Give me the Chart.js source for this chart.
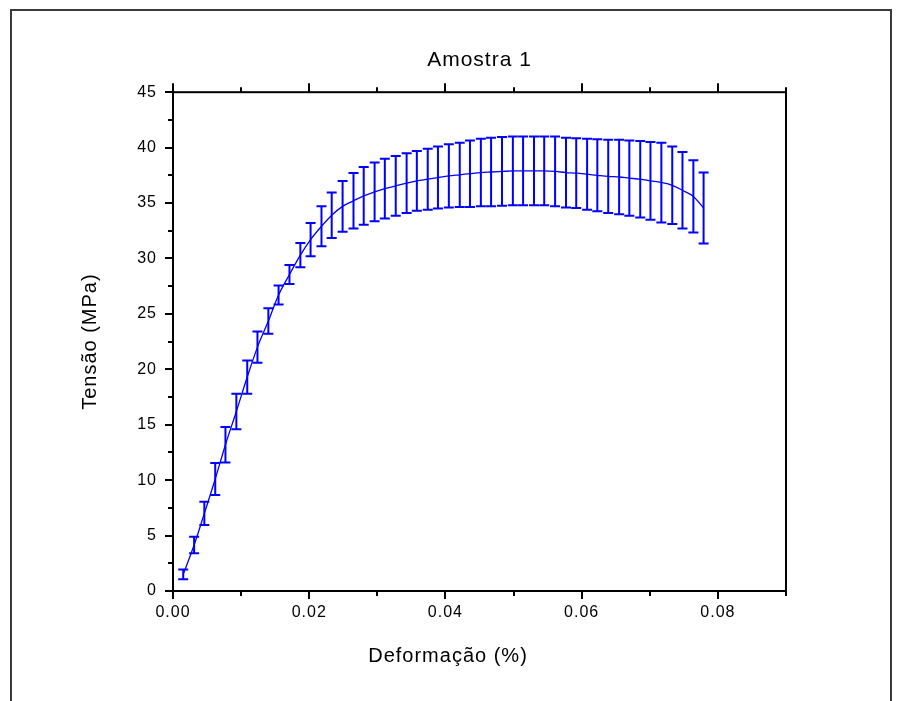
<!DOCTYPE html>
<html>
<head>
<meta charset="utf-8">
<title>Amostra 1</title>
<script src="https://cdn.jsdelivr.net/npm/chart.js@4.4.1/dist/chart.umd.min.js"></script>
<style>
  html, body { margin: 0; padding: 0; background: #fff; }
  #grafico { display: block; }
</style>
</head>
<body>
<canvas id="grafico" width="901" height="701"></canvas>
<script>
// deformação (eixo x) de cada ponto medido
var deformacao = [0.0015, 0.0031, 0.0046, 0.0062, 0.0077, 0.0093, 0.0109, 0.0124, 0.0140, 0.0155,
                  0.0171, 0.0187, 0.0202, 0.0218, 0.0233, 0.0249, 0.0265, 0.0280, 0.0296, 0.0311,
                  0.0327, 0.0343, 0.0358, 0.0374, 0.0389, 0.0405, 0.0421, 0.0436, 0.0452, 0.0467,
                  0.0483, 0.0499, 0.0514, 0.0530, 0.0545, 0.0561, 0.0577, 0.0592, 0.0608, 0.0623,
                  0.0639, 0.0655, 0.0670, 0.0686, 0.0701, 0.0717, 0.0733, 0.0748, 0.0764, 0.0779];

// tensão média (MPa)
var tensao = [1.5, 4.15, 7.0, 10.1, 13.2, 16.2, 19.3, 22.0, 24.35, 26.7,
              28.55, 30.3, 31.7, 32.9, 33.9, 34.7, 35.2, 35.65, 36.0, 36.3,
              36.55, 36.8, 37.0, 37.15, 37.3, 37.45, 37.55, 37.65, 37.75, 37.8,
              37.85, 37.9, 37.9, 37.9, 37.9, 37.85, 37.75, 37.7, 37.6, 37.5,
              37.4, 37.35, 37.25, 37.15, 37.0, 36.85, 36.6, 36.15, 35.6, 34.55];

// desvio padrão (MPa) usado nas barras de erro
var desvio = [0.45, 0.75, 1.05, 1.45, 1.6, 1.6, 1.5, 1.4, 1.15, 0.85,
              0.85, 1.1, 1.5, 1.8, 2.05, 2.3, 2.5, 2.6, 2.65, 2.7,
              2.7, 2.7, 2.7, 2.75, 2.8, 2.85, 2.9, 3.0, 3.05, 3.1,
              3.1, 3.1, 3.1, 3.1, 3.1, 3.15, 3.15, 3.15, 3.2, 3.25,
              3.3, 3.35, 3.4, 3.45, 3.5, 3.6, 3.5, 3.45, 3.25, 3.2];

var rotulosX = ["0.00", "0.02", "0.04", "0.06", "0.08"];
var rotulosY = ["0", "5", "10", "15", "20", "25", "30", "35", "40", "45"];

var titulo = "Amostra 1";
var tituloX = "Deformação (%)";
var tituloY = "Tensão (MPa)";

var azul = "#0000ff";
var fonte = '"Liberation Sans", Arial, sans-serif';

var pontos = deformacao.map(function (d, i) {
    return { x: d, y: tensao[i] };
});

// fundo branco, moldura externa e espaçamento das letras
var moldura = {
    id: "moldura",
    beforeLayout: function (chart) {
        chart.ctx.letterSpacing = "1px";
    },
    beforeDraw: function (chart) {
        var ctx = chart.ctx;
        ctx.letterSpacing = "1px";
        ctx.save();
        ctx.fillStyle = "#fff";
        ctx.fillRect(0, 0, chart.width, chart.height);
        ctx.strokeStyle = "#3a3a3a";
        ctx.lineWidth = 2;
        ctx.strokeRect(11, 10, 880, 720);
        ctx.restore();
    },
    afterDraw: function (chart) {
        var ctx = chart.ctx, a = chart.chartArea;
        var sx = chart.scales.x, sy = chart.scales.y;
        ctx.save();
        ctx.strokeStyle = "#000";
        ctx.lineWidth = 2;
        ctx.strokeRect(a.left, a.top, a.right - a.left, a.bottom - a.top);

        // marcas: grandes onde há rótulo, pequenas no meio
        ctx.beginPath();
        sx.ticks.forEach(function (t) {
            var px = Math.round(sx.getPixelForValue(t.value));
            var grande = t.label !== "";
            ctx.moveTo(px, a.bottom);
            ctx.lineTo(px, a.bottom + (grande ? 8 : 5));
            ctx.moveTo(px, a.top);
            ctx.lineTo(px, a.top - (grande ? 9 : 5));
        });
        sy.ticks.forEach(function (t) {
            var py = Math.round(sy.getPixelForValue(t.value));
            var grande = t.label !== "";
            ctx.moveTo(a.left, py);
            ctx.lineTo(a.left - (grande ? 8 : 5), py);
        });
        ctx.stroke();

        ctx.fillStyle = "#000";
        ctx.font = "20px " + fonte;
        ctx.textAlign = "center";
        ctx.textBaseline = "middle";
        ctx.fillText(tituloX, a.left + 275, a.bottom + 65);
        ctx.restore();
    }
};

// barras de erro verticais com tampas
var barrasErro = {
    id: "barrasErro",
    afterDatasetsDraw: function (chart) {
        var ctx = chart.ctx, sx = chart.scales.x, sy = chart.scales.y;
        ctx.save();
        ctx.strokeStyle = azul;
        ctx.lineWidth = 2;
        ctx.beginPath();
        for (var i = 0; i < deformacao.length; i++) {
            var px = sx.getPixelForValue(deformacao[i]);
            var topo = sy.getPixelForValue(tensao[i] + desvio[i]);
            var base = sy.getPixelForValue(tensao[i] - desvio[i]);
            ctx.moveTo(px, topo);
            ctx.lineTo(px, base);
            ctx.moveTo(px - 5, topo);
            ctx.lineTo(px + 5, topo);
            ctx.moveTo(px - 5, base);
            ctx.lineTo(px + 5, base);
        }
        ctx.stroke();
        ctx.restore();
    }
};

var grafico = new Chart(document.getElementById("grafico"), {
    type: "scatter",
    data: {
        datasets: [{
            data: pontos,
            showLine: true,
            borderColor: azul,
            backgroundColor: azul,
            borderWidth: 1.3,
            pointRadius: 0,
            cubicInterpolationMode: "monotone",
            fill: false
        }]
    },
    options: {
        responsive: false,
        animation: false,
        devicePixelRatio: 1,
        layout: { padding: { left: 0, right: 115, top: 0, bottom: 0 } },
        plugins: {
            legend: { display: false },
            tooltip: { enabled: false },
            title: {
                display: true,
                text: titulo,
                fullSize: false,
                color: "#000",
                font: { family: fonte, size: 21, weight: "normal" },
                padding: { top: 48, bottom: 19 }
            }
        },
        scales: {
            x: {
                type: "linear",
                min: 0,
                max: 0.09,
                afterFit: function (s) { s.height = 110; },
                grid: { display: false, drawTicks: false },
                border: { display: false },
                ticks: {
                    stepSize: 0.01,
                    autoSkip: false,
                    maxRotation: 0,
                    padding: 12,
                    color: "#000",
                    font: { family: fonte, size: 16 },
                    callback: function (v) {
                        var k = Math.round(v * 100);
                        return k % 2 === 0 ? rotulosX[k / 2] : "";
                    }
                }
            },
            y: {
                min: 0,
                max: 45,
                afterFit: function (s) { s.width = 173; },
                grid: { display: false, drawTicks: false },
                border: { display: false },
                title: {
                    display: true,
                    text: tituloY,
                    color: "#000",
                    font: { family: fonte, size: 20 },
                    padding: { top: 78, bottom: 0 }
                },
                ticks: {
                    stepSize: 2.5,
                    autoSkip: false,
                    padding: 16,
                    color: "#000",
                    font: { family: fonte, size: 16 },
                    callback: function (v) {
                        var k = Math.round(v * 2);
                        return k % 2 === 0 ? rotulosY[k / 10] || "" : "";
                    }
                }
            }
        }
    },
    plugins: [moldura, barrasErro]
});
</script>
</body>
</html>
